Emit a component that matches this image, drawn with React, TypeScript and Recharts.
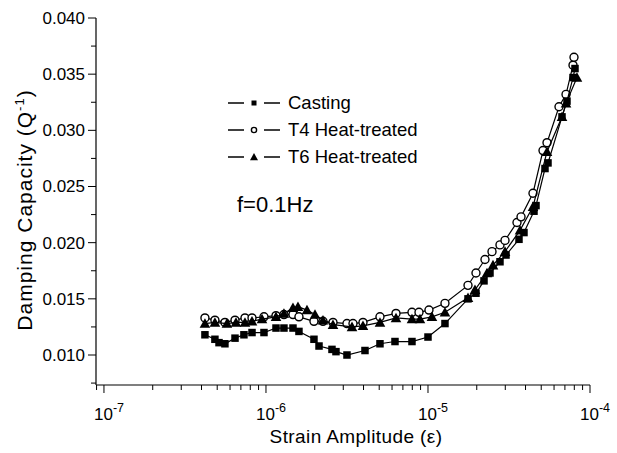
import React from 'react';
import { ScatterChart, Scatter, XAxis, YAxis, Legend } from 'recharts';

const FONT = '"Liberation Sans", Arial, Helvetica, sans-serif';

// Casting
const castingStrain = [
  4.2e-7, 4.84e-7, 5.13e-7, 5.58e-7, 6.44e-7, 7.31e-7, 8.2e-7, 9.72e-7, 1.153e-6, 1.291e-6,
  1.468e-6, 1.598e-6, 1.978e-6, 2.125e-6, 2.555e-6, 2.704e-6, 3.162e-6, 4.084e-6, 5.054e-6, 6.256e-6,
  7.965e-6, 1.0e-5, 1.273e-5, 1.766e-5, 1.978e-5, 2.217e-5, 2.414e-5, 2.782e-5, 3.03e-5, 3.645e-5,
  3.913e-5, 4.511e-5, 4.642e-5, 5.275e-5, 5.505e-5, 6.717e-5, 7.211e-5, 7.855e-5, 8.08e-5,
];
const castingDamping = [
  0.0118, 0.0114, 0.0111, 0.011, 0.0115, 0.0118, 0.012, 0.012, 0.0124, 0.0124,
  0.0124, 0.0121, 0.0114, 0.0108, 0.0105, 0.0103, 0.01, 0.0104, 0.011, 0.0112,
  0.0112, 0.0116, 0.0128, 0.015, 0.0155, 0.0166, 0.0173, 0.0183, 0.0189, 0.0203,
  0.0209, 0.0228, 0.0233, 0.0266, 0.0271, 0.0312, 0.0326, 0.0347, 0.0355,
];

// T4 heat-treated
const t4Strain = [
  4.2e-7, 4.84e-7, 5.58e-7, 6.44e-7, 7.42e-7, 8.2e-7, 9.72e-7, 1.153e-6, 1.291e-6, 1.468e-6,
  1.598e-6, 1.978e-6, 2.248e-6, 2.592e-6, 3.162e-6, 3.444e-6, 3.97e-6, 5.054e-6, 6.346e-6, 7.965e-6,
  8.8e-6, 1.014e-5, 1.273e-5, 1.766e-5, 1.978e-5, 2.248e-5, 2.484e-5, 2.782e-5, 2.988e-5, 3.543e-5,
  3.752e-5, 4.447e-5, 5.128e-5, 5.428e-5, 6.437e-5, 7.112e-5, 7.855e-5, 7.965e-5,
];
const t4Damping = [
  0.0133, 0.0131, 0.0129, 0.0131, 0.0133, 0.0133, 0.0134, 0.0135, 0.0136, 0.0136,
  0.0134, 0.013, 0.013, 0.0129, 0.0128, 0.0128, 0.0129, 0.0134, 0.0137, 0.0138,
  0.0138, 0.014, 0.0146, 0.0162, 0.0173, 0.0185, 0.0192, 0.0198, 0.0202, 0.0218,
  0.0223, 0.0244, 0.0282, 0.0289, 0.0321, 0.0332, 0.0358, 0.0365,
];

// T6 heat-treated
const t6Strain = [
  4.2e-7, 4.84e-7, 5.74e-7, 6.53e-7, 7.42e-7, 8.2e-7, 9.45e-7, 1.153e-6, 1.291e-6, 1.468e-6,
  1.576e-6, 1.791e-6, 2.007e-6, 2.248e-6, 2.592e-6, 3.396e-6, 3.97e-6, 5.054e-6, 6.346e-6, 7.965e-6,
  8.925e-6, 1.058e-5, 1.273e-5, 1.766e-5, 1.95e-5, 2.313e-5, 2.519e-5, 2.988e-5, 3.697e-5, 4.447e-5,
  5.428e-5, 6.717e-5, 7.112e-5, 8.31e-5,
];
const t6Damping = [
  0.0128, 0.0129, 0.0128, 0.0129, 0.0129, 0.013, 0.0132, 0.0134, 0.0137, 0.0142,
  0.0143, 0.014, 0.0136, 0.0131, 0.0127, 0.0125, 0.0126, 0.0129, 0.0133, 0.0132,
  0.0132, 0.0134, 0.0138, 0.0151, 0.0158, 0.0173, 0.018, 0.0192, 0.0211, 0.0232,
  0.0281, 0.0312, 0.0324, 0.0347,
];

const xDecades = [1e-7, 1e-6, 1e-5, 1e-4];
const xMinorSteps = [2, 3, 4, 5, 6, 7, 8, 9];
const yTicks = [0.0075, 0.01, 0.0125, 0.015, 0.0175, 0.02, 0.0225, 0.025, 0.0275, 0.03, 0.0325, 0.035, 0.0375, 0.04];

const xTicks = [9e-8, ...xDecades.flatMap((d, i) => (i < xDecades.length - 1 ? [d, ...xMinorSteps.map((m) => m * d)] : [d]))];

const toPoints = (xs: number[], ys: number[]) => xs.map((x, i) => ({ x, y: ys[i] }));
const castingData = toPoints(castingStrain, castingDamping);
const t4Data = toPoints(t4Strain, t4Damping);
const t6Data = toPoints(t6Strain, t6Damping);

const SquareMark = ({ cx, cy, s = 7.5 }: any) => (
  <rect x={cx - s / 2} y={cy - s / 2} width={s} height={s} fill="#000" />
);
const CircleMark = ({ cx, cy, r = 4 }: any) => (
  <circle cx={cx} cy={cy} r={r} fill="#fff" stroke="#000" strokeWidth={1.4} />
);
const TriangleMark = ({ cx, cy, s = 5.3 }: any) => (
  <polygon points={`${cx},${cy - s} ${cx - s},${cy + s * 0.8} ${cx + s},${cy + s * 0.8}`} fill="#000" />
);

const XTick = (props: any) => {
  const { x, y, payload } = props;
  const lg = Math.log10(payload.value);
  const exp = Math.round(lg);
  const major = Math.abs(lg - exp) < 1e-6;
  return (
    <g>
      <line x1={x} y1={y} x2={x} y2={y + (major ? 8 : 5)} stroke="#000" strokeWidth={1} />
      {major && (
        <text x={x - 10} y={y + 35} textAnchor="start" fontSize={17} fontFamily={FONT} fill="#000">
          <tspan>10</tspan>
          <tspan dy={-8} fontSize={12.5}>{exp}</tspan>
        </text>
      )}
    </g>
  );
};

const YTick = (props: any) => {
  const { x, y, payload } = props;
  const v = payload.value;
  const major = Math.abs(v / 0.005 - Math.round(v / 0.005)) < 1e-6;
  return (
    <g>
      <line x1={x} y1={y} x2={x - (major ? 8 : 5)} y2={y} stroke="#000" strokeWidth={1} />
      {major && (
        <text x={x - 11} y={y} dy="0.35em" textAnchor="end" fontSize={17} fontFamily={FONT} fill="#000">
          {v.toFixed(3)}
        </text>
      )}
    </g>
  );
};

const legendItems = [
  { name: 'Casting', mark: 'square' },
  { name: 'T4 Heat-treated', mark: 'circle' },
  { name: 'T6 Heat-treated', mark: 'triangle' },
];

const LegendBox = () => (
  <div style={{ fontFamily: FONT, fontSize: 18.5, color: '#000' }}>
    {legendItems.map((it) => (
      <div key={it.name} style={{ display: 'flex', alignItems: 'center', height: 27 }}>
        <svg width={58} height={14} style={{ marginRight: 4 }}>
          <line x1={2} y1={7} x2={54} y2={7} stroke="#000" strokeWidth={1.3} />
          <rect x={18} y={0} width={20} height={14} fill="#fff" />
          {it.mark === 'square' && <SquareMark cx={28} cy={7} s={5} />}
          {it.mark === 'circle' && <CircleMark cx={28} cy={7} r={2.6} />}
          {it.mark === 'triangle' && <TriangleMark cx={28} cy={7} s={4} />}
        </svg>
        <span>{it.name}</span>
      </div>
    ))}
  </div>
);

export default function App() {
  return (
    <div style={{ position: 'absolute', left: 0, top: 0, width: 617, height: 453, background: '#fff', fontFamily: FONT }}>
      <ScatterChart width={617} height={453} margin={{ top: 18, right: 27, bottom: 0, left: 0 }}>
        <XAxis
          type="number"
          dataKey="x"
          scale="log"
          domain={[8.93e-8, 1e-4]}
          allowDataOverflow
          ticks={xTicks}
          interval={0}
          tick={<XTick />}
          tickLine={false}
          tickSize={0}
          tickMargin={0}
          height={68}
          axisLine={{ stroke: '#000', strokeWidth: 1.2 }}
        />
        <YAxis
          type="number"
          dataKey="y"
          domain={[0.00733, 0.04]}
          allowDataOverflow
          ticks={yTicks}
          interval={0}
          tick={<YTick />}
          tickLine={false}
          tickSize={0}
          tickMargin={0}
          width={96}
          axisLine={{ stroke: '#000', strokeWidth: 1.2 }}
        />
        <Legend
          layout="horizontal"
          verticalAlign="middle"
          align="center"
          content={() => <LegendBox />}
          wrapperStyle={{ position: 'absolute', left: 226, top: 89, width: 240 }}
        />
        <Scatter
          name="T4 Heat-treated"
          data={t4Data}
          line={{ stroke: '#000', strokeWidth: 1.2 }}
          lineType="joint"
          shape={(p: any) => <CircleMark cx={p.cx} cy={p.cy} />}
          isAnimationActive={false}
        />
        <Scatter
          name="Casting"
          data={castingData}
          line={{ stroke: '#000', strokeWidth: 1.2 }}
          lineType="joint"
          shape={(p: any) => <SquareMark cx={p.cx} cy={p.cy} />}
          isAnimationActive={false}
        />
        <Scatter
          name="T6 Heat-treated"
          data={t6Data}
          line={{ stroke: '#000', strokeWidth: 1.2 }}
          lineType="joint"
          shape={(p: any) => <TriangleMark cx={p.cx} cy={p.cy} />}
          isAnimationActive={false}
        />
      </ScatterChart>
      <div
        style={{
          position: 'absolute', left: 25, top: 210, transform: 'translate(-50%, -50%) rotate(-90deg)',
          whiteSpace: 'nowrap', fontSize: 21, letterSpacing: 1, color: '#000',
        }}
      >
        Damping Capacity (Q<sup style={{ fontSize: 13, verticalAlign: 'top', lineHeight: 1 }}>-1</sup>)
      </div>
      <div
        style={{
          position: 'absolute', left: 356, top: 437, transform: 'translate(-50%, -50%)',
          whiteSpace: 'nowrap', fontSize: 19, letterSpacing: 0.4, color: '#000',
        }}
      >
        Strain Amplitude (ε)
      </div>
      <div style={{ position: 'absolute', left: 237, top: 192, whiteSpace: 'nowrap', fontSize: 22, color: '#000' }}>
        f=0.1Hz
      </div>
    </div>
  );
}
